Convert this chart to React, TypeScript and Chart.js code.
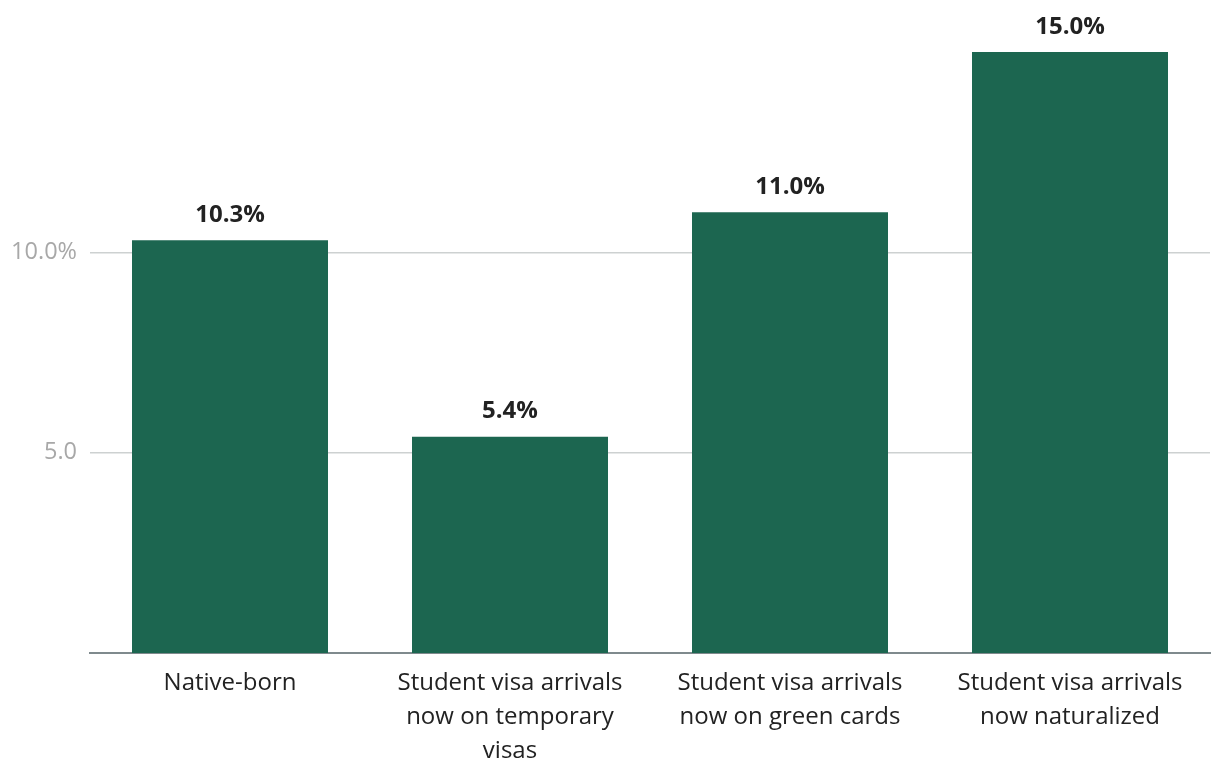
import React, { useEffect, useRef } from "react";
import { Chart, registerables } from "chart.js";

Chart.register(...registerables);

const categories: string[][] = [
  ["Native-born"],
  ["Student visa arrivals", "now on temporary", "visas"],
  ["Student visa arrivals", "now on green cards"],
  ["Student visa arrivals", "now naturalized"],
];
const values: number[] = [10.3, 5.4, 11.0, 15.0];
const yTicks: number[] = [5, 10];
const yTickLabels: string[] = ["5.0", "10.0%"];

const FONT = "'Open Sans', 'Noto Sans', sans-serif";

const valueLabels = {
  id: "valueLabels",
  afterDatasetsDraw(chart: any) {
    const ctx = chart.ctx;
    const meta = chart.getDatasetMeta(0);
    ctx.save();
    ctx.font = `bold 24px ${FONT}`;
    ctx.fillStyle = "#222222";
    ctx.textAlign = "center";
    ctx.textBaseline = "middle";
    meta.data.forEach((bar: any, i: number) => {
      ctx.fillText(values[i].toFixed(1) + "%", bar.x, bar.y - 25);
    });
    ctx.restore();
  },
};

export default function App() {
  const ref = useRef<HTMLCanvasElement | null>(null);
  useEffect(() => {
    if (!ref.current) return;
    const chart = new Chart(ref.current, {
      type: "bar",
      data: {
        labels: categories,
        datasets: [
          {
            data: values,
            backgroundColor: "#1c6650",
            barPercentage: 0.7,
            categoryPercentage: 1,
          },
        ],
      },
      options: {
        animation: false,
        responsive: false,
        layout: { padding: { top: 52, right: 10, left: 0, bottom: 0 } },
        plugins: { legend: { display: false }, tooltip: { enabled: false } },
        scales: {
          x: {
            grid: { display: false },
            border: { display: true, color: "#7f8a8d", width: 2 },
            ticks: {
              color: "#222222",
              font: { family: FONT, size: 24, lineHeight: 1.42 },
              padding: 5,
              maxRotation: 0,
              autoSkip: false,
            },
            afterFit: (scale: any) => {
              scale.height = 131;
            },
          },
          y: {
            min: 0,
            max: 15,
            border: { display: false },
            grid: { color: "#cdd1d1", lineWidth: 1.5, drawTicks: false },
            afterBuildTicks: (scale: any) => {
              scale.ticks = yTicks.map((v) => ({ value: v }));
            },
            ticks: {
              color: "#a8a8a8",
              font: { family: FONT, size: 23.5 },
              padding: 13,
              callback: (v: any) => {
                const i = yTicks.indexOf(Number(v));
                return i >= 0 ? yTickLabels[i] : "";
              },
            },
            afterFit: (scale: any) => {
              scale.width = 90;
            },
          },
        },
      },
      plugins: [valueLabels],
    });
    return () => chart.destroy();
  }, []);
  return (
    <div style={{ position: "fixed", left: 0, top: 0, width: 1220, height: 784, background: "#fff" }}>
      <canvas ref={ref} width={1220} height={784} style={{ width: 1220, height: 784 }} />
    </div>
  );
}
